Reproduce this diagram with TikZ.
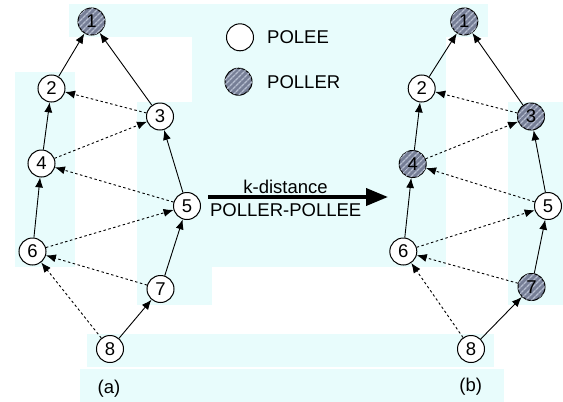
\documentclass[tikz,border=0pt]{standalone}
\usepackage{fontspec}
\setmainfont{Liberation Sans}
\usetikzlibrary{arrows.meta,patterns.meta}
\definecolor{bgcyan}{RGB}{232,252,252}
\definecolor{pollerfill}{RGB}{118,126,150}
\definecolor{pollerstripe}{RGB}{182,190,208}
\tikzset{
  vtx/.style={circle, draw=black, line width=1pt, minimum size=27pt, inner sep=0pt,
    font=\fontsize{18.5}{20}\selectfont, text=black},
  polee/.style={vtx, fill=white},
  poller/.style={vtx, fill=pollerfill,
    postaction={pattern={Lines[angle=45,distance=4pt,line width=1.5pt]}, pattern color=pollerstripe}},
  tree/.style={line width=0.9pt, -{Latex[length=10pt,width=8pt]}},
  probe/.style={line width=0.9pt, dash pattern=on 2.5pt off 2.5pt, -{Latex[length=10pt,width=8pt]}},
  lbl/.style={font=\fontsize{18.5}{20}\selectfont, inner sep=0pt},
  bigarrow/.style={line width=3.8pt, -{Triangle[length=22pt,width=17pt]}},
  bgpatch/.style={fill=bgcyan, draw=none}
}
\begin{document}
\begin{tikzpicture}[x=1pt,y=-1pt]
\useasboundingbox (0,0) rectangle (563,402);
% background patches
\fill[bgpatch] (69,4) rectangle (488,37);
\fill[bgpatch] (192,4) rectangle (446,267);
\fill[bgpatch] (15,72) rectangle (75,267);
\fill[bgpatch] (137,102) rectangle (212,305);
\fill[bgpatch] (508,102) rectangle (563,305);
\fill[bgpatch] (87,334) rectangle (494,367);
\fill[bgpatch] (80,369) rectangle (504,402);

% graph (a)
\node[poller] (a1) at (91.5,21.5) {1};
\node[polee]  (a2) at (51.5,88.5) {2};
\node[polee]  (a3) at (160,116.5) {3};
\node[polee]  (a4) at (41.5,163.5) {4};
\node[polee]  (a5) at (187,206) {5};
\node[polee]  (a6) at (32.5,251.5) {6};
\node[polee]  (a7) at (160.5,289) {7};
\node[polee]  (a8) at (110,349) {8};

\draw[tree] (a2) -- (a1);
\draw[tree] (a3) -- (a1);
\draw[tree] (a4) -- (a2);
\draw[tree] (a6) -- (a4);
\draw[tree] (a5) -- (a3);
\draw[tree] (a7) -- (a5);
\draw[tree] (a8) -- (a7);
\draw[probe] (a3) -- (a2);
\draw[probe] (a4) -- (a3);
\draw[probe] (a5) -- (a4);
\draw[probe] (a6) -- (a5);
\draw[probe] (a7) -- (a6);
\draw[probe] (a8) -- (a6);

% graph (b)
\node[poller] (b1) at (464.3,21.5) {1};
\node[polee]  (b2) at (421.7,88.5) {2};
\node[poller] (b3) at (531,116.5) {3};
\node[poller] (b4) at (412.7,164) {4};
\node[polee]  (b5) at (548,206) {5};
\node[polee]  (b6) at (403.3,251.5) {6};
\node[poller] (b7) at (531.5,287) {7};
\node[polee]  (b8) at (471,349) {8};

\draw[tree] (b2) -- (b1);
\draw[tree] (b3) -- (b1);
\draw[tree] (b4) -- (b2);
\draw[tree] (b6) -- (b4);
\draw[tree] (b5) -- (b3);
\draw[tree] (b7) -- (b5);
\draw[tree] (b8) -- (b7);
\draw[probe] (b3) -- (b2);
\draw[probe] (b4) -- (b3);
\draw[probe] (b5) -- (b4);
\draw[probe] (b6) -- (b5);
\draw[probe] (b7) -- (b6);
\draw[probe] (b8) -- (b6);

% legend
\node[polee]  (legpolee)  at (240,37.3) {};
\node[poller] (legpoller) at (238.5,81.7) {};
\node[lbl, anchor=west] (legpoleetxt)  at (267,37.3) {POLEE};
\node[lbl, anchor=west] (legpollertxt) at (267,81.7) {POLLER};

% transformation arrow
\coordinate (arrS) at (208,197);
\coordinate (arrE) at (388,197);
\draw[bigarrow] (arrS) -- (arrE);
\node[lbl, anchor=base] (kdist) at (285.5,193) {k-distance};
\node[lbl, anchor=base] (pp) at (285.7,216) {POLLER-POLLEE};

% captions
\node[lbl, anchor=base] (capa) at (109,393) {(a)};
\node[lbl, anchor=base] (capb) at (470.7,391) {(b)};
\end{tikzpicture}
\end{document}
